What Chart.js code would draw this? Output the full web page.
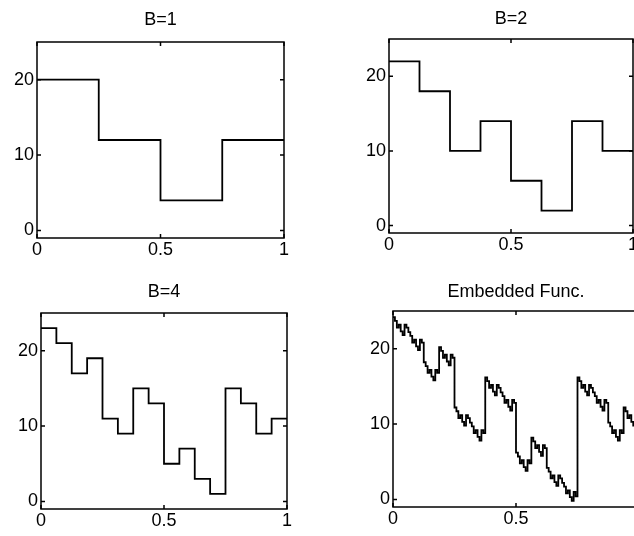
<!DOCTYPE html>
<html>
<head>
<meta charset="utf-8">
<script src="https://cdn.jsdelivr.net/npm/chart.js@4.4.1/dist/chart.umd.min.js"></script>
<style>
  html, body { margin: 0; padding: 0; background: #fff; width: 634px; height: 536px; overflow: hidden; }
  canvas { position: absolute; }
</style>
</head>
<body>
<canvas id="c1"></canvas>
<canvas id="c2"></canvas>
<canvas id="c3"></canvas>
<canvas id="c4"></canvas>
<script>
// axis ticks shared by all four panels
const xTicks = [0, 0.5, 1];
const xTickLabels = ['0', '0.5', '1'];
const yTicks = [0, 10, 20];
const yTickLabels = ['0', '10', '20'];
const titles = ['B=1', 'B=2', 'B=4', 'Embedded Func.'];

// step heights, equal-width steps across [0, 1]
const stepsB1 = [20, 12, 4, 12];
const stepsB2 = [22, 18, 10, 14, 6, 2, 14, 10];
const stepsB4 = [23, 21, 17, 19, 11, 9, 15, 13, 5, 7, 3, 1, 15, 13, 9, 11];
const stepsEmbedded = [
  24.2, 23.7, 22.8, 23.2, 22.3, 21.8, 23.2, 22.8,
  22.2, 21.7, 20.8, 21.2, 20.3, 19.8, 21.2, 20.8,
  18.2, 17.7, 16.8, 17.2, 16.3, 15.8, 17.2, 16.8,
  20.2, 19.7, 18.8, 19.2, 18.3, 17.8, 19.2, 18.8,
  12.2, 11.7, 10.8, 11.2, 10.3, 9.8, 11.2, 10.8,
  10.2, 9.7, 8.8, 9.2, 8.3, 7.8, 9.2, 8.8,
  16.2, 15.7, 14.8, 15.2, 14.3, 13.8, 15.2, 14.8,
  14.2, 13.7, 12.8, 13.2, 12.3, 11.8, 13.2, 12.8,
  6.2, 5.7, 4.8, 5.2, 4.3, 3.8, 5.2, 4.8,
  8.2, 7.7, 6.8, 7.2, 6.3, 5.8, 7.2, 6.8,
  4.2, 3.7, 2.8, 3.2, 2.3, 1.8, 3.2, 2.8,
  2.2, 1.7, 0.8, 1.2, 0.3, -0.2, 1.0, 0.4,
  16.2, 15.7, 14.8, 15.2, 14.3, 13.8, 15.2, 14.8,
  14.2, 13.7, 12.8, 13.2, 12.3, 11.8, 13.2, 12.8,
  10.2, 9.7, 8.8, 9.2, 8.3, 7.8, 9.2, 8.8,
  12.2, 11.7, 10.8, 11.2, 10.3, 9.8, 11.2, 10.8
];

const yMin = -1, yMax = 25;
const FONT = '"Liberation Sans", Arial, Helvetica, sans-serif';
const yW = 40, xH = 26, padR = 12;

// plot box [left, top, right, bottom] in page px, and title centre y
const panels = [
  { id: 'c1', title: titles[0], steps: stepsB1, box: [37, 42, 284, 238], titleY: 20 },
  { id: 'c2', title: titles[1], steps: stepsB2, box: [389, 39, 633, 233], titleY: 19 },
  { id: 'c3', title: titles[2], steps: stepsB4, box: [41, 313, 287, 509], titleY: 292 },
  { id: 'c4', title: titles[3], steps: stepsEmbedded, box: [393, 311, 639, 507], titleY: 292 }
];

// matlab style frame with inward ticks on all four sides
const boxPlugin = {
  id: 'box',
  afterDraw(chart) {
    const { ctx, chartArea: a, scales: { x, y } } = chart;
    const t = 4;
    ctx.save();
    ctx.strokeStyle = '#000';
    ctx.lineWidth = 1.5;
    ctx.strokeRect(a.left, a.top, a.right - a.left, a.bottom - a.top);
    ctx.beginPath();
    x.ticks.forEach(tk => {
      const px = x.getPixelForValue(tk.value);
      ctx.moveTo(px, a.bottom); ctx.lineTo(px, a.bottom - t);
      ctx.moveTo(px, a.top); ctx.lineTo(px, a.top + t);
    });
    y.ticks.forEach(tk => {
      const py = y.getPixelForValue(tk.value);
      ctx.moveTo(a.left, py); ctx.lineTo(a.left + t, py);
      ctx.moveTo(a.right, py); ctx.lineTo(a.right - t, py);
    });
    ctx.stroke();
    ctx.restore();
  }
};

function toPoints(steps) {
  const n = steps.length;
  const pts = steps.map((v, i) => ({ x: i / n, y: v }));
  pts.push({ x: 1, y: steps[n - 1] });
  return pts;
}

panels.forEach(p => {
  const [l, t, r, b] = p.box;
  const cv = document.getElementById(p.id);
  const top = p.titleY - 9;
  cv.width = r - l + yW + padR;
  cv.height = b - top + xH;
  cv.style.left = (l - yW) + 'px';
  cv.style.top = top + 'px';

  new Chart(cv, {
    type: 'line',
    data: {
      datasets: [{
        data: toPoints(p.steps),
        borderColor: '#000',
        borderWidth: 1.8,
        pointRadius: 0,
        stepped: true,
        fill: false
      }]
    },
    options: {
      responsive: false,
      devicePixelRatio: 1,
      animation: false,
      layout: { padding: { left: 0, top: 0, bottom: 0, right: padR } },
      plugins: {
        legend: { display: false },
        tooltip: { enabled: false },
        title: {
          display: true,
          text: p.title,
          fullSize: false,
          color: '#000',
          font: { family: FONT, size: 18, weight: 'normal', lineHeight: 1 },
          padding: { top: 0, bottom: t - p.titleY - 9 }
        }
      },
      scales: {
        x: {
          type: 'linear', min: 0, max: 1,
          grid: { display: false, drawTicks: false }, border: { display: false },
          ticks: {
            color: '#000', padding: 1, maxRotation: 0, autoSkip: false,
            font: { family: FONT, size: 18 },
            callback: v => xTickLabels[xTicks.indexOf(v)]
          },
          afterBuildTicks: s => { s.ticks = xTicks.map(v => ({ value: v })); },
          afterFit: s => { s.height = xH; s.paddingLeft = 0; s.paddingRight = 0; }
        },
        y: {
          type: 'linear', min: yMin, max: yMax,
          grid: { display: false, drawTicks: false }, border: { display: false },
          ticks: {
            color: '#000', padding: 3,
            font: { family: FONT, size: 18 },
            callback: v => yTickLabels[yTicks.indexOf(v)]
          },
          afterBuildTicks: s => { s.ticks = yTicks.map(v => ({ value: v })); },
          afterFit: s => { s.width = yW; s.paddingTop = 0; s.paddingBottom = 0; }
        }
      }
    },
    plugins: [boxPlugin]
  });
});
</script>
</body>
</html>
